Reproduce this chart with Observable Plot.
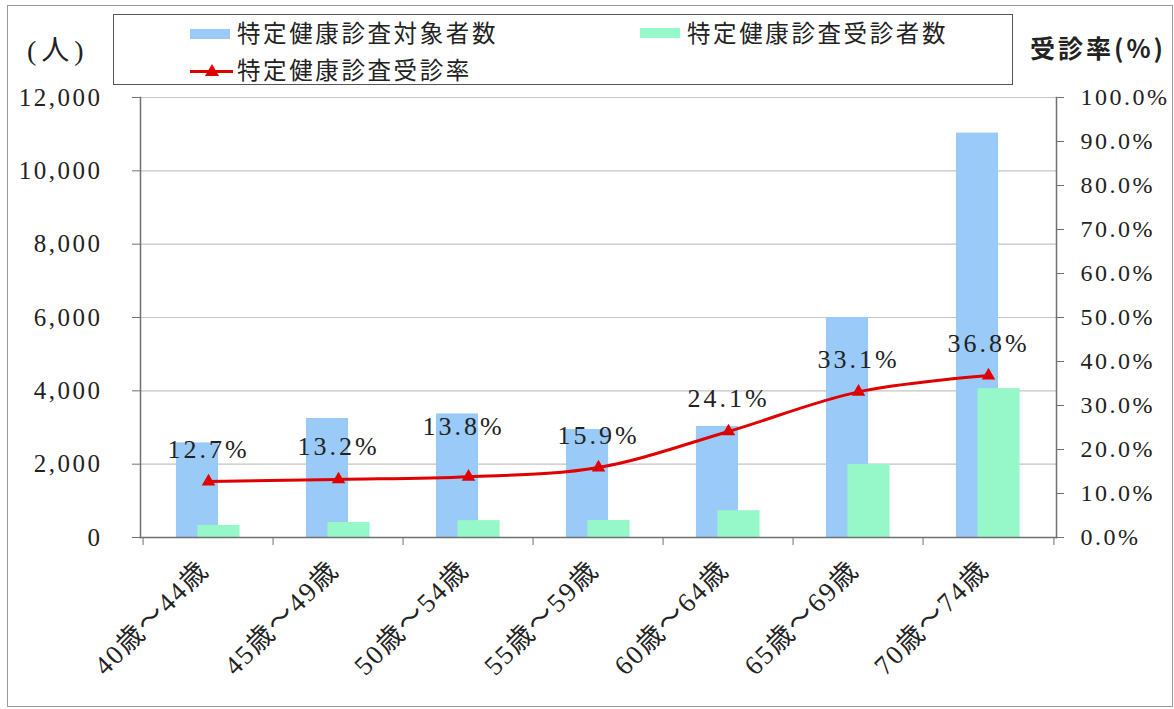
<!DOCTYPE html>
<html lang="ja">
<head>
<meta charset="utf-8">
<script src="https://cdn.jsdelivr.net/npm/d3@7"></script>
<script src="https://cdn.jsdelivr.net/npm/@observablehq/plot@0.6"></script>
<style>
  html, body { margin: 0; padding: 0; background: #fff; }
  #wrap { position: relative; width: 1174px; height: 709px; overflow: hidden; }
  #chart svg { display: block; }
  .num g[aria-label="y-axis tick label"] text { letter-spacing: 2.5px; }
  .lbl { letter-spacing: 3px; }
  .cat { letter-spacing: 2px; }
  .abs { position: absolute; }
  #outer { left: 7px; top: 5px; width: 1164px; height: 700px; border: 1px solid #9a9a9a; pointer-events: none; }
  #legend { left: 113px; top: 14px; width: 898px; height: 69px; border: 1.5px solid #555; background: #fff; }
  .ltext { font-family: "Noto Sans CJK JP", sans-serif; font-size: 23.5px; letter-spacing: 2.6px; color: #222; line-height: 1; white-space: nowrap; }
  .sw { height: 10px; width: 40px; }
  #unitL { left: 27px; top: 28px; font-family: "Liberation Serif", "DejaVu Serif", "Noto Sans CJK JP", serif; font-size: 28px; letter-spacing: 5px; color: #222; white-space: nowrap; }
  #unitR { left: 1030px; top: 29px; font-family: "Noto Sans CJK JP", sans-serif; font-size: 25px; letter-spacing: 3px; font-weight: 700; color: #222; white-space: nowrap; }
</style>
</head>
<body>
<div id="wrap">
  <div id="chart" class="num"></div>
  <div id="legend" class="abs">
    <div class="abs sw" style="left:76px; top:14px; background:#9ACAF8;"></div>
    <div class="abs ltext" style="left:123px; top:6px;">特定健康診査対象者数</div>
    <div class="abs sw" style="left:526px; top:13px; background:#96F7C8;"></div>
    <div class="abs ltext" style="left:573px; top:6px;">特定健康診査受診者数</div>
    <div class="abs" style="left:76px; top:55px; width:43px; height:3px; background:#e00000;"></div>
    <div class="abs" style="left:91px; top:49px; width:0; height:0; border-left:7px solid transparent; border-right:7px solid transparent; border-bottom:12px solid #e00000;"></div>
    <div class="abs ltext" style="left:123px; top:43px;">特定健康診査受診率</div>
  </div>
  <div id="unitL" class="abs">(人)</div>
  <div id="unitR" class="abs">受診率(%)</div>
  <div id="outer" class="abs"></div>
</div>
<script>
const categories = ["40歳～44歳", "45歳～49歳", "50歳～54歳", "55歳～59歳", "60歳～64歳", "65歳～69歳", "70歳～74歳"];
const targetCounts = [2580, 3245, 3370, 2945, 3030, 6000, 11030];
const examineeCounts = [330, 410, 460, 465, 730, 1990, 4060];
const examRates = [12.7, 13.2, 13.8, 15.9, 24.1, 33.1, 36.8];
const leftTicks = [0, 2000, 4000, 6000, 8000, 10000, 12000];
const rightTicks = [0, 10, 20, 30, 40, 50, 60, 70, 80, 90, 100];

const yMax = 12000;
const pctToY = p => p * yMax / 100;

const data = categories.map((c, i) => ({
  cat: c,
  target: targetCounts[i],
  examinee: examineeCounts[i],
  rate: examRates[i],
  rateY: pctToY(examRates[i])
}));

const blue = "#9ACAF8";
const green = "#96F7C8";
const red = "#e00000";
const numFont = "'Liberation Serif', 'DejaVu Serif', serif";
const catFont = "'Liberation Serif', 'DejaVu Serif', 'Noto Sans CJK JP', serif";

const W = 1174, H = 709, mL = 140, mR = 118, mT = 97, mB = 172;
const bw = (W - mL - mR) / categories.length;
const barW = 43;
const blueOff = -11, greenOff = 10.5;
const insL = off => bw / 2 + off - barW / 2;
const insR = off => bw - insL(off) - barW;

const chart = Plot.plot({
  width: W,
  height: H,
  marginLeft: mL,
  marginRight: mR,
  marginTop: mT,
  marginBottom: mB,
  style: { fontFamily: numFont, color: "#222", background: "transparent" },
  x: { type: "band", domain: categories, padding: 0, axis: null },
  y: { domain: [0, yMax], axis: null },
  marks: [
    Plot.gridY(leftTicks.filter(d => d > 0), { stroke: "#c4c4c4", strokeOpacity: 1, strokeWidth: 1.2 }),
    Plot.barY(data, { x: "cat", y: "target", fill: blue, insetLeft: insL(blueOff), insetRight: insR(blueOff) }),
    Plot.barY(data, { x: "cat", y: "examinee", fill: green, insetLeft: insL(greenOff), insetRight: insR(greenOff) }),
    Plot.frame({ anchor: "left", stroke: "#707070", strokeWidth: 1.5 }),
    Plot.frame({ anchor: "right", stroke: "#707070", strokeWidth: 1.5 }),
    Plot.frame({ anchor: "bottom", stroke: "#707070", strokeWidth: 1.5 }),
    Plot.axisY(leftTicks, {
      anchor: "left", tickSize: 8, tickPadding: 30, stroke: "#707070", label: null,
      tickFormat: d3.format(","), fontSize: 25, fontFamily: numFont, fill: "#222"
    }),
    Plot.axisY(rightTicks.map(pctToY), {
      anchor: "right", tickSize: 7, tickPadding: 17, stroke: "#707070", label: null,
      tickFormat: d => (d * 100 / yMax).toFixed(1) + "%", fontSize: 24, fontFamily: numFont, fill: "#222"
    }),
    Plot.axisX({ tickSize: 8, tickFormat: null, label: null, dx: -bw / 2, stroke: "#707070" }),
    Plot.axisX([categories[categories.length - 1]], { tickSize: 8, tickFormat: null, label: null, dx: bw / 2, stroke: "#707070" }),
    Plot.text(data, {
      x: "cat", y: () => 0, text: "cat", rotate: -45, textAnchor: "end", lineAnchor: "bottom",
      dx: 2, dy: 34, fontSize: 27, fontFamily: catFont, fill: "#222", className: "cat"
    }),
    Plot.line(data, { x: "cat", y: "rateY", stroke: red, strokeWidth: 3, curve: "catmull-rom" }),
    Plot.dot(data, { x: "cat", y: "rateY", symbol: "triangle", fill: red, r: 5 }),
    Plot.text(data.filter((d, i) => i !== 2), {
      x: "cat", y: "rateY", text: d => d.rate.toFixed(1) + "%", textAnchor: "middle", lineAnchor: "bottom",
      dy: -24, fontSize: 26, fontFamily: numFont, fill: "#222", className: "lbl"
    }),
    Plot.text(data.filter((d, i) => i === 2), {
      x: "cat", y: "rateY", text: d => d.rate.toFixed(1) + "%", textAnchor: "middle", lineAnchor: "bottom",
      dx: -5, dy: -42, fontSize: 26, fontFamily: numFont, fill: "#222", className: "lbl"
    })
  ]
});
document.getElementById("chart").appendChild(chart);
</script>
</body>
</html>
